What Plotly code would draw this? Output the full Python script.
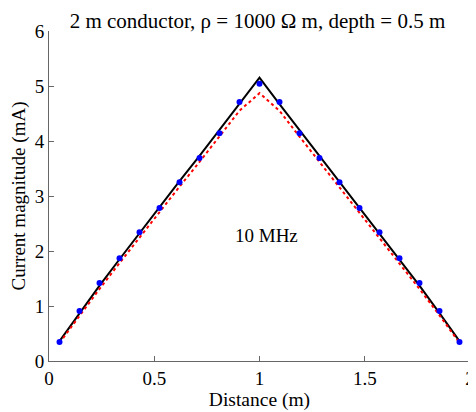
import plotly.graph_objects as go

dist = [0.05, 0.145, 0.24, 0.335, 0.43, 0.525, 0.62, 0.715, 0.81, 0.905, 1.0,
        1.095, 1.19, 1.285, 1.38, 1.475, 1.57, 1.665, 1.76, 1.855, 1.95]
black_vals = [0.36, 0.87, 1.37, 1.85, 2.33, 2.80, 3.27, 3.73, 4.20, 4.67, 5.15,
              4.67, 4.20, 3.73, 3.27, 2.80, 2.33, 1.85, 1.37, 0.87, 0.36]
red_vals = [0.33, 0.83, 1.31, 1.78, 2.25, 2.71, 3.17, 3.62, 4.08, 4.55, 4.87,
            4.55, 4.08, 3.62, 3.17, 2.71, 2.25, 1.78, 1.31, 0.83, 0.33]
blue_vals = [0.345, 0.91, 1.42, 1.87, 2.34, 2.78, 3.25, 3.69, 4.14, 4.71, 5.04,
             4.71, 4.14, 3.69, 3.25, 2.78, 2.34, 1.87, 1.42, 0.91, 0.345]

font = "Liberation Serif"

fig = go.Figure()
fig.add_trace(go.Scatter(x=dist, y=black_vals, mode="lines",
                         line=dict(color="black", width=2)))
fig.add_trace(go.Scatter(x=dist, y=red_vals, mode="lines",
                         line=dict(color="red", width=2, dash="dot")))
fig.add_trace(go.Scatter(x=dist, y=blue_vals, mode="markers",
                         marker=dict(color="blue", size=6)))

fig.add_annotation(x=1.035, y=2.29, text="10 MHz", showarrow=False,
                   font=dict(family=font, size=19, color="black"))

# page body has an 8px margin, so the figure is offset by 8px
fig.update_layout(
    width=468, height=404,
    margin=dict(l=41, r=6, t=23, b=51, autoexpand=False),
    paper_bgcolor="white", plot_bgcolor="white",
    showlegend=False,
    font=dict(family=font, size=19, color="black"),
    title=dict(text="2 m conductor, ρ = 1000 Ω m, depth = 0.5 m",
               x=0.533, xanchor="center", y=1, yref="paper", yanchor="bottom",
               pad=dict(b=3),
               font=dict(family=font, size=21, color="black")),
)
fig.update_xaxes(range=[0, 2], tickvals=[0, 0.5, 1, 1.5, 2],
                 ticktext=["0", "0.5", "1", "1.5", "2"],
                 showgrid=False, zeroline=False, showline=True,
                 linecolor="#666", linewidth=1, ticks="inside", ticklen=5,
                 tickcolor="#666", automargin=False,
                 title=dict(text="Distance (m)", standoff=2, font=dict(size=19.5)),
                 tickfont=dict(size=19))
fig.update_yaxes(range=[0, 6], tickvals=[0, 1, 2, 3, 4, 5, 6],
                 showgrid=False, zeroline=False, showline=True,
                 linecolor="#666", linewidth=1, ticks="inside", ticklen=5,
                 tickcolor="#666", automargin=False,
                 title=dict(text="Current magnitude (mA)", standoff=6, font=dict(size=19)),
                 tickfont=dict(size=19))

fig.write_html("out.html")
